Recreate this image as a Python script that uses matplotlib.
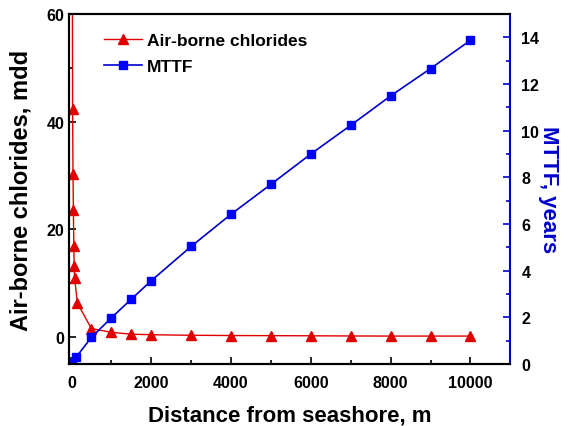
import matplotlib
matplotlib.use("Agg")
import matplotlib.pyplot as plt
from matplotlib.ticker import MultipleLocator

plt.rcParams['font.family'] = ['Liberation Sans', 'DejaVu Sans']
plt.rcParams['font.weight'] = 'bold'

cl_x = [10, 30, 40, 50, 60, 70, 80, 150, 500, 1000, 1500, 2000, 3000, 4000, 5000, 6000, 7000, 8000, 9000, 10000]
cl_y = [120, 42.3, 30.2, 23.6, 16.9, 13.3, 11.0, 6.3, 1.6, 0.9, 0.55, 0.45, 0.35, 0.3, 0.28, 0.25, 0.22, 0.2, 0.2, 0.2]

mttf_x = [10, 120, 500, 1000, 1500, 2000, 3000, 4000, 5000, 6000, 7000, 8000, 9000, 10000]
mttf_y = [0.05, 0.3, 1.14, 1.98, 2.78, 3.57, 5.04, 6.42, 7.7, 9.0, 10.23, 11.49, 12.66, 13.87]

fig = plt.figure(figsize=(5.68, 4.27), dpi=100)
ax = fig.add_axes([0.1215, 0.145, 0.777, 0.82])
ax2 = ax.twinx()

l1, = ax.plot(cl_x, cl_y, color='#e00000', lw=1.0, marker='^', ms=7, label='Air-borne chlorides')
l2, = ax2.plot(mttf_x, mttf_y, color='#0000cc', lw=1.2, marker='s', ms=5.5,
               markerfacecolor='#0000ff', markeredgecolor='#0000ff', label='MTTF')

ax.set_xlim(-60, 11000)
ax.set_ylim(-5, 60)
ax2.set_ylim(0, 15)

ax.xaxis.set_major_locator(MultipleLocator(2000))
ax.xaxis.set_minor_locator(MultipleLocator(1000))
ax.yaxis.set_major_locator(MultipleLocator(20))
ax.yaxis.set_minor_locator(MultipleLocator(10))
ax2.yaxis.set_major_locator(MultipleLocator(2))
ax2.yaxis.set_minor_locator(MultipleLocator(1))

ax.tick_params(axis='both', which='both', direction='in', labelsize=11.5, width=1.2)
ax.tick_params(axis='both', which='major', length=5)
ax.tick_params(axis='both', which='minor', length=3)
ax.tick_params(axis='x', which='major', pad=8)
ax.tick_params(top=False, which='both')
ax2.tick_params(axis='y', which='both', direction='in', colors='#0000cc', labelcolor='black', labelsize=11.5, width=1.2)
ax2.tick_params(axis='y', which='major', length=5, pad=8)
ax2.tick_params(axis='y', which='minor', length=3)

for lab in ax.get_xticklabels() + ax.get_yticklabels() + ax2.get_yticklabels():
    lab.set_fontweight('bold')

for s in ['left', 'bottom', 'top']:
    ax.spines[s].set_linewidth(1.5)
    ax2.spines[s].set_linewidth(1.5)
ax2.spines['right'].set_color('#0000cc')
ax2.spines['right'].set_linewidth(1.5)
ax.spines['right'].set_visible(False)

ax.set_xlabel('Distance from seashore, m', fontsize=16, fontweight='bold', labelpad=10)
ax.set_ylabel('Air-borne chlorides, mdd', fontsize=17, fontweight='bold', labelpad=10)
ax2.set_ylabel('MTTF, years', fontsize=16, fontweight='bold', color='#0000cc', rotation=270, labelpad=14)

leg = ax.legend(handles=[l1, l2], loc='upper left', bbox_to_anchor=(0.055, 0.975), frameon=False,
                prop={'weight': 'bold', 'size': 12.5}, handlelength=2.2, handletextpad=0.3,
                borderaxespad=0.2, labelspacing=0.6)

fig.savefig('out.png', dpi=100)
